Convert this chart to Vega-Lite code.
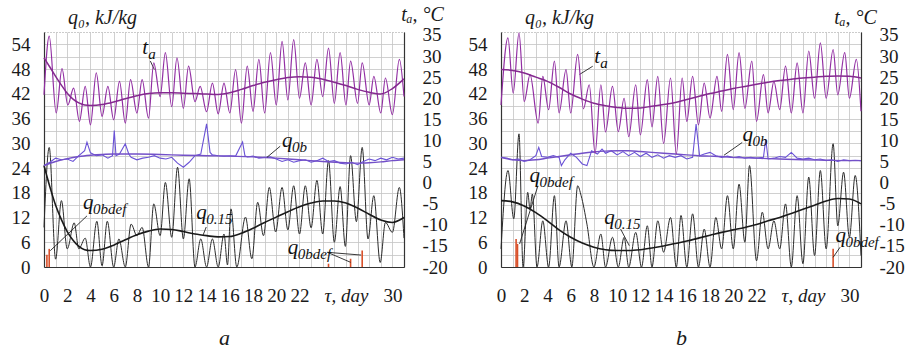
{
"$schema": "https://vega.github.io/schema/vega-lite/v6.json",
"background": "white",
"padding": {"left": 10, "top": 3, "right": 5, "bottom": 0},
"bounds": "flush",
"spacing": 97,
"config": {
  "view": {"stroke": "#999", "strokeDash": [1, 2]},
  "axis": {"labelFont": "Liberation Serif", "labelFontSize": 19, "labelColor": "#1a1a1a", "titleFont": "Liberation Serif", "titleFontStyle": "italic", "titleFontWeight": "normal", "titleFontSize": 20, "titleColor": "#1a1a1a", "ticks": false, "labelFlush": false, "labelOverlap": false, "domainColor": "#333", "domainWidth": 1.2, "gridColor": "#c4c4c4", "gridWidth": 0.8}
},
"datasets": {
  "taA": [{"d":0,"v":20.8},{"d":0.45,"v":34.7},{"d":1.05,"v":16.5},{"d":1.55,"v":27.0},{"d":2.05,"v":18.4},{"d":2.55,"v":22.4},{"d":3.05,"v":14.5},{"d":3.55,"v":22.8},{"d":4,"v":13.7},{"d":4.5,"v":26},{"d":5,"v":15.7},{"d":5.5,"v":22.8},{"d":6,"v":14.9},{"d":6.5,"v":24},{"d":7,"v":14.1},{"d":7.45,"v":24.4},{"d":8,"v":16.5},{"d":8.45,"v":24.4},{"d":9,"v":15.3},{"d":9.45,"v":28.4},{"d":10,"v":20.4},{"d":10.45,"v":30.8},{"d":11,"v":18},{"d":11.45,"v":29.6},{"d":12,"v":17.6},{"d":12.45,"v":27.6},{"d":13,"v":19.2},{"d":13.45,"v":22.8},{"d":14,"v":16.8},{"d":14.5,"v":23.6},{"d":15,"v":16.3},{"d":15.5,"v":23.6},{"d":16,"v":16.5},{"d":16.5,"v":26.8},{"d":17,"v":14.1},{"d":17.5,"v":27.6},{"d":18,"v":16.9},{"d":18.5,"v":29.2},{"d":19,"v":16.5},{"d":19.5,"v":30.8},{"d":20,"v":18.4},{"d":20.5,"v":33.5},{"d":21,"v":19.6},{"d":21.5,"v":33.9},{"d":22,"v":20},{"d":22.5,"v":28.4},{"d":23,"v":18.4},{"d":23.5,"v":29.2},{"d":24,"v":20.4},{"d":24.5,"v":31.9},{"d":25,"v":18.8},{"d":25.5,"v":30.8},{"d":26,"v":18.4},{"d":26.4,"v":28.8},{"d":27,"v":18.8},{"d":27.4,"v":28.4},{"d":28,"v":18.4},{"d":28.4,"v":25.2},{"d":29,"v":16.5},{"d":29.4,"v":24.8},{"d":30,"v":16.1},{"d":30.6,"v":29.2},{"d":31,"v":20.4}],
  "taTA": [{"d":0,"v":29.6},{"d":0.5,"v":27.4},{"d":1,"v":25.2},{"d":1.5,"v":23.1},{"d":2,"v":21.2},{"d":2.5,"v":19.8},{"d":3,"v":18.9},{"d":3.5,"v":18.4},{"d":4,"v":18.3},{"d":5,"v":18.5},{"d":6,"v":19.1},{"d":7,"v":19.9},{"d":8,"v":20.6},{"d":9,"v":21.1},{"d":10,"v":21.3},{"d":11,"v":21.3},{"d":12,"v":21.2},{"d":13,"v":21.1},{"d":14,"v":21.0},{"d":15,"v":20.9},{"d":16,"v":21.3},{"d":17,"v":22.1},{"d":18,"v":23.0},{"d":19,"v":23.8},{"d":20,"v":24.4},{"d":21,"v":24.9},{"d":22,"v":25.1},{"d":23,"v":25.0},{"d":24,"v":24.5},{"d":25,"v":23.8},{"d":26,"v":23.0},{"d":27,"v":22.1},{"d":28,"v":21.4},{"d":29,"v":21.0},{"d":30,"v":22.3},{"d":31,"v":24.6}],
  "qbA": [{"d":0,"v":24.6},{"d":0.5,"v":25.4},{"d":1,"v":26.4},{"d":1.5,"v":26.0},{"d":2,"v":26.2},{"d":2.5,"v":25.6},{"d":3,"v":27.0},{"d":3.5,"v":28.2},{"d":3.7,"v":30.3},{"d":4,"v":27.7},{"d":4.5,"v":27.0},{"d":5,"v":27.2},{"d":5.5,"v":26.4},{"d":5.9,"v":27.0},{"d":6.05,"v":33.1},{"d":6.2,"v":27.0},{"d":6.5,"v":27.4},{"d":7,"v":29.9},{"d":7.3,"v":27.4},{"d":7.5,"v":26.6},{"d":8,"v":26.0},{"d":8.5,"v":26.4},{"d":9,"v":26.6},{"d":9.5,"v":27.0},{"d":10,"v":26.4},{"d":10.5,"v":26.2},{"d":11,"v":26.6},{"d":11.5,"v":25.2},{"d":12,"v":24.2},{"d":12.5,"v":25.4},{"d":13,"v":27.0},{"d":13.5,"v":27.4},{"d":14,"v":34.7},{"d":14.3,"v":27.8},{"d":14.5,"v":27.2},{"d":15,"v":27.0},{"d":15.5,"v":26.9},{"d":16,"v":27.0},{"d":16.5,"v":26.9},{"d":17.1,"v":30.3},{"d":17.3,"v":27.0},{"d":17.5,"v":26.7},{"d":18,"v":26.9},{"d":18.5,"v":26.4},{"d":19,"v":26.6},{"d":19.5,"v":26.7},{"d":20,"v":26.2},{"d":20.5,"v":25.6},{"d":21,"v":26.0},{"d":21.5,"v":25.4},{"d":22,"v":25.8},{"d":22.5,"v":26.0},{"d":23,"v":25.4},{"d":23.5,"v":25.8},{"d":24,"v":26.4},{"d":24.5,"v":25.6},{"d":25,"v":25.8},{"d":25.5,"v":25.2},{"d":26,"v":25.0},{"d":26.5,"v":25.4},{"d":27,"v":24.8},{"d":27.5,"v":25.6},{"d":28,"v":26.2},{"d":28.5,"v":25.8},{"d":29,"v":26.4},{"d":29.5,"v":26.0},{"d":30,"v":26.6},{"d":30.5,"v":26.2},{"d":31,"v":26.4}],
  "qbTA": [{"d":0,"v":24.6},{"d":1,"v":25.6},{"d":2,"v":26.3},{"d":3,"v":26.8},{"d":4,"v":27.1},{"d":5,"v":27.3},{"d":6,"v":27.4},{"d":8,"v":27.4},{"d":10,"v":27.3},{"d":12,"v":27.1},{"d":14,"v":27.0},{"d":16,"v":26.9},{"d":18,"v":26.7},{"d":20,"v":26.4},{"d":22,"v":26.0},{"d":24,"v":25.6},{"d":26,"v":25.3},{"d":27,"v":25.2},{"d":28,"v":25.3},{"d":29,"v":25.5},{"d":30,"v":25.8},{"d":31,"v":26.0}],
  "qdA": [{"d":0,"v":9.6},{"d":0.45,"v":29.0},{"d":1,"v":1.9},{"d":1.5,"v":16.1},{"d":2,"v":4.4},{"d":2.6,"v":10.7},{"d":3,"v":4.4},{"d":3.55,"v":7.0},{"d":4,"v":0},{"d":4.55,"v":11.1},{"d":5,"v":0.3},{"d":5.45,"v":11.1},{"d":6,"v":0},{"d":6.45,"v":6.8},{"d":7,"v":0},{"d":7.5,"v":10.4},{"d":8,"v":7.6},{"d":8.45,"v":9.6},{"d":9,"v":0},{"d":9.45,"v":15.3},{"d":10,"v":7.6},{"d":10.45,"v":20.5},{"d":11,"v":7.2},{"d":11.5,"v":24.2},{"d":12,"v":6.8},{"d":12.5,"v":21.4},{"d":13,"v":0},{"d":13.5,"v":6.8},{"d":14,"v":0},{"d":14.5,"v":6.8},{"d":15,"v":0},{"d":15.5,"v":8.0},{"d":15.8,"v":0.5},{"d":16.1,"v":14.1},{"d":16.6,"v":0},{"d":17.35,"v":12.1},{"d":17.9,"v":2.0},{"d":18.4,"v":15.7},{"d":18.9,"v":7.6},{"d":19.4,"v":19.3},{"d":19.95,"v":8.5},{"d":20.5,"v":19.3},{"d":21,"v":9.0},{"d":21.5,"v":19.7},{"d":22,"v":8.0},{"d":22.5,"v":19.7},{"d":23,"v":9.5},{"d":23.5,"v":21.0},{"d":24,"v":8.0},{"d":24.5,"v":25.8},{"d":25,"v":6.0},{"d":25.5,"v":19.5},{"d":25.95,"v":5.0},{"d":26.4,"v":27.0},{"d":26.9,"v":11.0},{"d":27.4,"v":29.0},{"d":27.9,"v":6.8},{"d":28.4,"v":17.3},{"d":28.95,"v":1.1},{"d":29.4,"v":10.8},{"d":30,"v":8.4},{"d":30.6,"v":19.3},{"d":31,"v":7.0}],
  "q15A": [{"d":0,"v":24.6},{"d":0.5,"v":19.5},{"d":1,"v":15.0},{"d":1.5,"v":11.5},{"d":2,"v":8.6},{"d":2.5,"v":6.5},{"d":3,"v":5.0},{"d":3.5,"v":4.2},{"d":4,"v":4.0},{"d":5,"v":4.3},{"d":6,"v":5.3},{"d":7,"v":6.6},{"d":8,"v":7.8},{"d":9,"v":8.7},{"d":10,"v":9.2},{"d":11,"v":9.1},{"d":12,"v":8.6},{"d":13,"v":8.0},{"d":14,"v":7.6},{"d":15,"v":7.3},{"d":16,"v":7.4},{"d":17,"v":8.2},{"d":18,"v":9.4},{"d":19,"v":10.8},{"d":20,"v":12.1},{"d":21,"v":13.4},{"d":22,"v":14.6},{"d":23,"v":15.5},{"d":24,"v":16.0},{"d":25,"v":16.0},{"d":26,"v":15.5},{"d":27,"v":14.3},{"d":28,"v":12.8},{"d":29,"v":11.4},{"d":30,"v":10.8},{"d":31,"v":12.0}],
  "redA": [{"d":0.25,"v":3.0},{"d":0.45,"v":4.4},{"d":24.5,"v":0.8},{"d":26.4,"v":2.0},{"d":27.4,"v":4.0}],
  "greenA": [{"d":1},{"d":3},{"d":5},{"d":7},{"d":9},{"d":11},{"d":13},{"d":15},{"d":17},{"d":19},{"d":21},{"d":23},{"d":25},{"d":27},{"d":29}],
  "labA": [{"d":8.45,"v":51.6,"m":"t","s":"a"},{"d":20.5,"v":29.1,"m":"q","s":"0b"},{"d":3.36,"v":14.0,"m":"q","s":"0bdef"},{"d":13.1,"v":11.6,"m":"q","s":"0.15"},{"d":21.0,"v":3.15,"m":"q","s":"0bdef"}],
  "ledA": [{"d":9.16,"v":49.95,"d2":9.5,"v2":47.9},{"d":20.34,"v":29.3,"d2":19.2,"v2":26.6},{"d":3.7,"v":12.4,"d2":0.54,"v2":3.95},{"d":13.97,"v":9.7,"d2":13.7,"v2":7.75},{"d":24.4,"v":3.56,"d2":26.4,"v2":1.14},{"d":24.4,"v":3.56,"d2":27.3,"v2":2.9}],
  "taB": [{"d":0,"v":18.4},{"d":0.6,"v":34.3},{"d":1.05,"v":21.2},{"d":1.55,"v":35.5},{"d":2,"v":19.2},{"d":2.5,"v":25.6},{"d":3.2,"v":14.1},{"d":3.6,"v":25.2},{"d":4.1,"v":17.3},{"d":4.6,"v":28.8},{"d":5,"v":16.5},{"d":5.6,"v":26.8},{"d":6,"v":16.5},{"d":6.6,"v":30.4},{"d":7.1,"v":17.5},{"d":7.6,"v":23.2},{"d":8.1,"v":7.0},{"d":8.6,"v":23.2},{"d":9,"v":12.0},{"d":9.6,"v":22.8},{"d":10.1,"v":12.1},{"d":10.6,"v":20.0},{"d":11,"v":10.9},{"d":11.6,"v":23.2},{"d":12,"v":11.3},{"d":12.6,"v":24.4},{"d":13,"v":13.2},{"d":13.5,"v":25.2},{"d":14,"v":9.3},{"d":14.6,"v":24.8},{"d":15.1,"v":6.8},{"d":15.6,"v":24.8},{"d":16,"v":14.5},{"d":16.5,"v":25.2},{"d":17,"v":13.7},{"d":17.5,"v":23.6},{"d":18,"v":15.3},{"d":18.6,"v":25.2},{"d":19,"v":16.9},{"d":19.5,"v":30.4},{"d":20,"v":17.3},{"d":20.5,"v":30.8},{"d":21,"v":17.6},{"d":21.6,"v":28.8},{"d":22,"v":14.5},{"d":22.6,"v":25.6},{"d":23,"v":16.5},{"d":23.5,"v":24.0},{"d":24,"v":17.3},{"d":24.5,"v":27.6},{"d":25,"v":16.5},{"d":25.5,"v":28.4},{"d":26,"v":16.5},{"d":26.5,"v":31.2},{"d":27,"v":20.0},{"d":27.5,"v":33.1},{"d":28,"v":20.0},{"d":28.6,"v":31.5},{"d":29,"v":20.8},{"d":29.6,"v":30.8},{"d":30,"v":20.0},{"d":30.6,"v":29.2},{"d":31,"v":16.9}],
  "taTB": [{"d":0,"v":26.8},{"d":1,"v":26.6},{"d":2,"v":26.0},{"d":3,"v":25.0},{"d":4,"v":24.0},{"d":5,"v":22.6},{"d":6,"v":21.0},{"d":7,"v":19.8},{"d":8,"v":18.8},{"d":9,"v":18.2},{"d":10,"v":17.8},{"d":11,"v":17.6},{"d":12,"v":17.7},{"d":13,"v":18.1},{"d":14,"v":18.5},{"d":15,"v":19.0},{"d":16,"v":19.7},{"d":17,"v":20.4},{"d":18,"v":21.1},{"d":19,"v":21.7},{"d":20,"v":22.3},{"d":21,"v":22.8},{"d":22,"v":23.3},{"d":23,"v":23.8},{"d":24,"v":24.2},{"d":25,"v":24.5},{"d":26,"v":24.8},{"d":27,"v":25.0},{"d":28,"v":25.2},{"d":29,"v":25.3},{"d":30,"v":25.2},{"d":31,"v":24.8}],
  "qbB": [{"d":0,"v":26.6},{"d":0.5,"v":26.4},{"d":1,"v":26.0},{"d":1.5,"v":26.2},{"d":2,"v":25.6},{"d":2.5,"v":26.0},{"d":3,"v":27.0},{"d":3.25,"v":29.0},{"d":3.5,"v":26.8},{"d":4,"v":26.6},{"d":4.5,"v":27.0},{"d":5,"v":26.6},{"d":5.2,"v":24.6},{"d":5.5,"v":26.0},{"d":6,"v":27.6},{"d":6.5,"v":26.6},{"d":7,"v":25.0},{"d":7.4,"v":24.6},{"d":7.8,"v":28.2},{"d":8.3,"v":27.4},{"d":8.7,"v":28.6},{"d":9,"v":27.6},{"d":9.5,"v":28.2},{"d":10,"v":27.2},{"d":10.5,"v":28.0},{"d":11,"v":27.0},{"d":11.5,"v":27.8},{"d":12,"v":26.8},{"d":12.5,"v":27.6},{"d":13,"v":26.6},{"d":13.5,"v":27.2},{"d":14,"v":26.4},{"d":14.5,"v":27.0},{"d":15,"v":26.6},{"d":15.5,"v":27.0},{"d":16,"v":26.2},{"d":16.5,"v":26.6},{"d":16.8,"v":34.7},{"d":17.1,"v":27.0},{"d":17.5,"v":27.4},{"d":18,"v":27.8},{"d":18.5,"v":27.0},{"d":19,"v":26.6},{"d":19.5,"v":26.9},{"d":20,"v":26.5},{"d":20.5,"v":26.8},{"d":21,"v":26.4},{"d":21.5,"v":26.6},{"d":22,"v":26.4},{"d":22.6,"v":26.6},{"d":22.8,"v":31.0},{"d":23,"v":26.2},{"d":23.5,"v":26.4},{"d":24,"v":26.8},{"d":24.5,"v":26.6},{"d":25,"v":27.8},{"d":25.5,"v":26.4},{"d":26,"v":26.2},{"d":26.5,"v":26.4},{"d":27,"v":26.0},{"d":27.5,"v":26.2},{"d":28,"v":25.8},{"d":28.5,"v":26.0},{"d":29,"v":25.6},{"d":29.5,"v":26.0},{"d":30,"v":25.8},{"d":30.5,"v":25.9},{"d":31,"v":25.8}],
  "qbTB": [{"d":0,"v":26.6},{"d":1,"v":26.0},{"d":2,"v":25.8},{"d":3,"v":26.0},{"d":4,"v":26.4},{"d":5,"v":26.8},{"d":6,"v":27.2},{"d":7,"v":27.6},{"d":8,"v":27.9},{"d":9,"v":28.1},{"d":10,"v":28.2},{"d":11,"v":28.2},{"d":12,"v":28.0},{"d":13,"v":27.8},{"d":14,"v":27.6},{"d":15,"v":27.4},{"d":16,"v":27.2},{"d":17,"v":27.0},{"d":18,"v":26.9},{"d":19,"v":26.8},{"d":20,"v":26.6},{"d":22,"v":26.4},{"d":24,"v":26.2},{"d":26,"v":26.0},{"d":28,"v":25.9},{"d":30,"v":25.8},{"d":31,"v":25.8}],
  "qdB": [{"d":0,"v":4.4},{"d":0.6,"v":23.4},{"d":1.1,"v":11.7},{"d":1.55,"v":32.3},{"d":1.9,"v":0},{"d":2.3,"v":18.1},{"d":2.5,"v":14.0},{"d":2.7,"v":17.7},{"d":3.1,"v":0},{"d":3.6,"v":11.2},{"d":4.1,"v":0},{"d":4.6,"v":17.3},{"d":5,"v":0},{"d":5.6,"v":11.2},{"d":6.1,"v":0},{"d":6.6,"v":19.7},{"d":6.9,"v":17.3},{"d":7.4,"v":10.4},{"d":8,"v":0},{"d":8.6,"v":8.0},{"d":9,"v":0},{"d":9.6,"v":7.2},{"d":10.1,"v":0},{"d":10.6,"v":7.2},{"d":11,"v":0},{"d":11.6,"v":8.4},{"d":12.1,"v":0},{"d":12.6,"v":10.0},{"d":13,"v":0},{"d":13.5,"v":11.2},{"d":14,"v":3.6},{"d":14.6,"v":12.0},{"d":15.1,"v":0},{"d":15.5,"v":12.5},{"d":16,"v":0},{"d":16.5,"v":12.9},{"d":17,"v":0},{"d":17.5,"v":9.2},{"d":18,"v":0},{"d":18.5,"v":12.0},{"d":19,"v":4.4},{"d":19.5,"v":17.3},{"d":20,"v":4.4},{"d":20.5,"v":20.1},{"d":21,"v":6.0},{"d":21.4,"v":24.6},{"d":22,"v":1.5},{"d":22.5,"v":13.3},{"d":23,"v":4.4},{"d":23.5,"v":11.2},{"d":24,"v":4.4},{"d":24.5,"v":15.3},{"d":25,"v":0},{"d":25.5,"v":17.3},{"d":26,"v":0.8},{"d":26.5,"v":21.8},{"d":27,"v":2.8},{"d":27.5,"v":23.4},{"d":28,"v":4.4},{"d":28.6,"v":29.9},{"d":29,"v":10.0},{"d":29.5,"v":23.0},{"d":30,"v":7.2},{"d":30.5,"v":22.2},{"d":31,"v":2.8}],
  "q15B": [{"d":0,"v":16.1},{"d":1,"v":15.8},{"d":2,"v":14.8},{"d":3,"v":13.2},{"d":4,"v":11.2},{"d":5,"v":9.0},{"d":6,"v":7.2},{"d":7,"v":5.8},{"d":8,"v":4.8},{"d":9,"v":4.2},{"d":10,"v":4.0},{"d":11,"v":4.0},{"d":12,"v":4.2},{"d":13,"v":4.6},{"d":14,"v":5.1},{"d":15,"v":5.7},{"d":16,"v":6.3},{"d":17,"v":7.0},{"d":18,"v":7.7},{"d":19,"v":8.4},{"d":20,"v":9.0},{"d":21,"v":9.6},{"d":22,"v":10.3},{"d":23,"v":11.2},{"d":24,"v":12.0},{"d":25,"v":13.0},{"d":26,"v":14.0},{"d":27,"v":15.0},{"d":28,"v":16.0},{"d":29,"v":16.6},{"d":30,"v":16.5},{"d":31,"v":15.3}],
  "redB": [{"d":1.3,"v":6.8},{"d":1.42,"v":5.6},{"d":28.6,"v":4.4}],
  "labB": [{"d":8.04,"v":49.6,"m":"t","s":"a"},{"d":20.8,"v":30.5,"m":"q","s":"0b"},{"d":2.46,"v":20.5,"m":"q","s":"0bdef"},{"d":8.9,"v":10.4,"m":"q","s":"0.15"},{"d":28.8,"v":6.0,"m":"q","s":"0bdef"}],
  "ledB": [{"d":7.9,"v":48.7,"d2":6.76,"v2":46.7},{"d":20.77,"v":30.2,"d2":19.2,"v2":27.1},{"d":3.18,"v":19.7,"d2":1.6,"v2":5.6},{"d":10.3,"v":9.2,"d2":11.05,"v2":5.16},{"d":29.2,"v":4.8,"d2":28.6,"v2":2.35}]
},
"hconcat": [
 {
  "width": 360, "height": 235,
  "resolve": {"scale": {"y": "independent"}},
  "encoding": {
   "x": {"field": "d", "type": "quantitative", "scale": {"domain": [0, 31], "nice": false, "zero": false},
     "axis": {"values": [0,1,2,3,4,5,6,7,8,9,10,11,12,13,14,15,16,17,18,19,20,21,22,23,24,25,26,27,28,29,30,31],
       "labelExpr": "datum.value == 26 ? 'τ, day' : ((datum.value % 2 == 0 && (datum.value <= 22 || datum.value == 30)) ? datum.label : '')",
       "labelFontStyle": {"condition": {"test": "datum.value == 26", "value": "italic"}, "value": "normal"},
       "grid": true, "labelPadding": 19, "title": "a", "titleFontSize": 22, "titlePadding": 22}}
  },
  "layer": [
   {
    "encoding": {
     "y": {"field": "v", "type": "quantitative", "scale": {"domain": [0, 57], "nice": false, "zero": false},
       "axis": {"values": [0,3,6,9,12,15,18,21,24,27,30,33,36,39,42,45,48,51,54],
         "labelExpr": "datum.value % 6 == 0 ? datum.label : ''",
         "grid": true, "labelPadding": 14, "title": "q₀, kJ/kg", "titleAngle": 0, "titleAlign": "center", "titleBaseline": "alphabetic", "titleX": 58, "titleY": -9}}
    },
    "layer": [
     {"data": {"name": "greenA"}, "mark": {"type": "rule", "color": "#8ccb74", "strokeWidth": 1}, "encoding": {"y": {"datum": 0}, "y2": {"datum": 57}}},
     {"data": {"name": "qdA"}, "mark": {"type": "line", "color": "#2b2b2b", "strokeWidth": 1, "interpolate": "monotone"}},
     {"data": {"name": "q15A"}, "mark": {"type": "line", "color": "#1a1a1a", "strokeWidth": 1.6, "interpolate": "monotone"}},
     {"data": {"name": "redA"}, "mark": {"type": "rule", "color": "#d9502a", "strokeWidth": 1.6}, "encoding": {"y2": {"datum": 0}}},
     {"data": {"name": "qbA"}, "mark": {"type": "line", "color": "#6a52d6", "strokeWidth": 1.1}},
     {"data": {"name": "qbTA"}, "mark": {"type": "line", "color": "#7350c8", "strokeWidth": 1.4, "interpolate": "monotone"}},
     {"data": {"name": "ledA"}, "mark": {"type": "rule", "color": "#222", "strokeWidth": 0.9}, "encoding": {"x2": {"field": "d2"}, "y2": {"field": "v2"}}},
     {"data": {"name": "labA"}, "mark": {"type": "text", "font": "Liberation Serif", "fontStyle": "italic", "fontSize": 21, "align": "left", "baseline": "alphabetic", "color": "#111"}, "encoding": {"text": {"field": "m"}}},
     {"data": {"name": "labA"}, "transform": [{"filter": "datum.m == 'q'"}], "mark": {"type": "text", "font": "Liberation Serif", "fontStyle": "italic", "fontSize": 15, "align": "left", "baseline": "alphabetic", "dx": 10, "dy": 5, "color": "#111"}, "encoding": {"text": {"field": "s"}}},
     {"data": {"name": "labA"}, "transform": [{"filter": "datum.m == 't'"}], "mark": {"type": "text", "font": "Liberation Serif", "fontStyle": "italic", "fontSize": 15, "align": "left", "baseline": "alphabetic", "dx": 6, "dy": 5, "color": "#111"}, "encoding": {"text": {"field": "s"}}}
    ]
   },
   {
    "encoding": {
     "y": {"field": "v", "type": "quantitative", "scale": {"domain": [-20, 35.7], "nice": false, "zero": false},
       "axis": {"orient": "right", "values": [-20,-15,-10,-5,0,5,10,15,20,25,30,35], "labelExpr": "'' + datum.value",
         "grid": false, "labelPadding": 18, "title": "tₐ, °C", "titleAngle": 0, "titleAlign": "center", "titleBaseline": "alphabetic", "titleX": 18, "titleY": -12}}
    },
    "layer": [
     {"data": {"name": "taA"}, "mark": {"type": "line", "color": "#922fa3", "strokeWidth": 1.2, "interpolate": "monotone"}},
     {"data": {"name": "taTA"}, "mark": {"type": "line", "color": "#84298f", "strokeWidth": 1.5, "interpolate": "monotone"}}
    ]
   }
  ]
 },
 {
  "width": 360, "height": 235,
  "resolve": {"scale": {"y": "independent"}},
  "encoding": {
   "x": {"field": "d", "type": "quantitative", "scale": {"domain": [0, 31], "nice": false, "zero": false},
     "axis": {"values": [0,1,2,3,4,5,6,7,8,9,10,11,12,13,14,15,16,17,18,19,20,21,22,23,24,25,26,27,28,29,30,31],
       "labelExpr": "datum.value == 26 ? 'τ, day' : ((datum.value % 2 == 0 && (datum.value <= 22 || datum.value == 30)) ? datum.label : '')",
       "labelFontStyle": {"condition": {"test": "datum.value == 26", "value": "italic"}, "value": "normal"},
       "grid": true, "labelPadding": 19, "title": "b", "titleFontSize": 22, "titlePadding": 22}}
  },
  "layer": [
   {
    "encoding": {
     "y": {"field": "v", "type": "quantitative", "scale": {"domain": [0, 57], "nice": false, "zero": false},
       "axis": {"values": [0,3,6,9,12,15,18,21,24,27,30,33,36,39,42,45,48,51,54],
         "labelExpr": "datum.value % 6 == 0 ? datum.label : ''",
         "grid": true, "labelPadding": 14, "title": "q₀, kJ/kg", "titleAngle": 0, "titleAlign": "center", "titleBaseline": "alphabetic", "titleX": 58, "titleY": -9}}
    },
    "layer": [
     {"data": {"name": "qdB"}, "mark": {"type": "line", "color": "#2b2b2b", "strokeWidth": 1, "interpolate": "monotone"}},
     {"data": {"name": "q15B"}, "mark": {"type": "line", "color": "#1a1a1a", "strokeWidth": 1.6, "interpolate": "monotone"}},
     {"data": {"name": "redB"}, "mark": {"type": "rule", "color": "#d9502a", "strokeWidth": 1.6}, "encoding": {"y2": {"datum": 0}}},
     {"data": {"name": "qbB"}, "mark": {"type": "line", "color": "#6a52d6", "strokeWidth": 1.1}},
     {"data": {"name": "qbTB"}, "mark": {"type": "line", "color": "#7350c8", "strokeWidth": 1.4, "interpolate": "monotone"}},
     {"data": {"name": "ledB"}, "mark": {"type": "rule", "color": "#222", "strokeWidth": 0.9}, "encoding": {"x2": {"field": "d2"}, "y2": {"field": "v2"}}},
     {"data": {"name": "labB"}, "mark": {"type": "text", "font": "Liberation Serif", "fontStyle": "italic", "fontSize": 21, "align": "left", "baseline": "alphabetic", "color": "#111"}, "encoding": {"text": {"field": "m"}}},
     {"data": {"name": "labB"}, "transform": [{"filter": "datum.m == 'q'"}], "mark": {"type": "text", "font": "Liberation Serif", "fontStyle": "italic", "fontSize": 15, "align": "left", "baseline": "alphabetic", "dx": 10, "dy": 5, "color": "#111"}, "encoding": {"text": {"field": "s"}}},
     {"data": {"name": "labB"}, "transform": [{"filter": "datum.m == 't'"}], "mark": {"type": "text", "font": "Liberation Serif", "fontStyle": "italic", "fontSize": 15, "align": "left", "baseline": "alphabetic", "dx": 6, "dy": 5, "color": "#111"}, "encoding": {"text": {"field": "s"}}}
    ]
   },
   {
    "encoding": {
     "y": {"field": "v", "type": "quantitative", "scale": {"domain": [-20, 35.7], "nice": false, "zero": false},
       "axis": {"orient": "right", "values": [-20,-15,-10,-5,0,5,10,15,20,25,30,35], "labelExpr": "'' + datum.value",
         "grid": false, "labelPadding": 18, "title": "tₐ, °C", "titleAngle": 0, "titleAlign": "center", "titleBaseline": "alphabetic", "titleX": -6, "titleY": -9}}
    },
    "layer": [
     {"data": {"name": "taB"}, "mark": {"type": "line", "color": "#922fa3", "strokeWidth": 1.2, "interpolate": "monotone"}},
     {"data": {"name": "taTB"}, "mark": {"type": "line", "color": "#84298f", "strokeWidth": 1.5, "interpolate": "monotone"}}
    ]
   }
  ]
 }
]
}
